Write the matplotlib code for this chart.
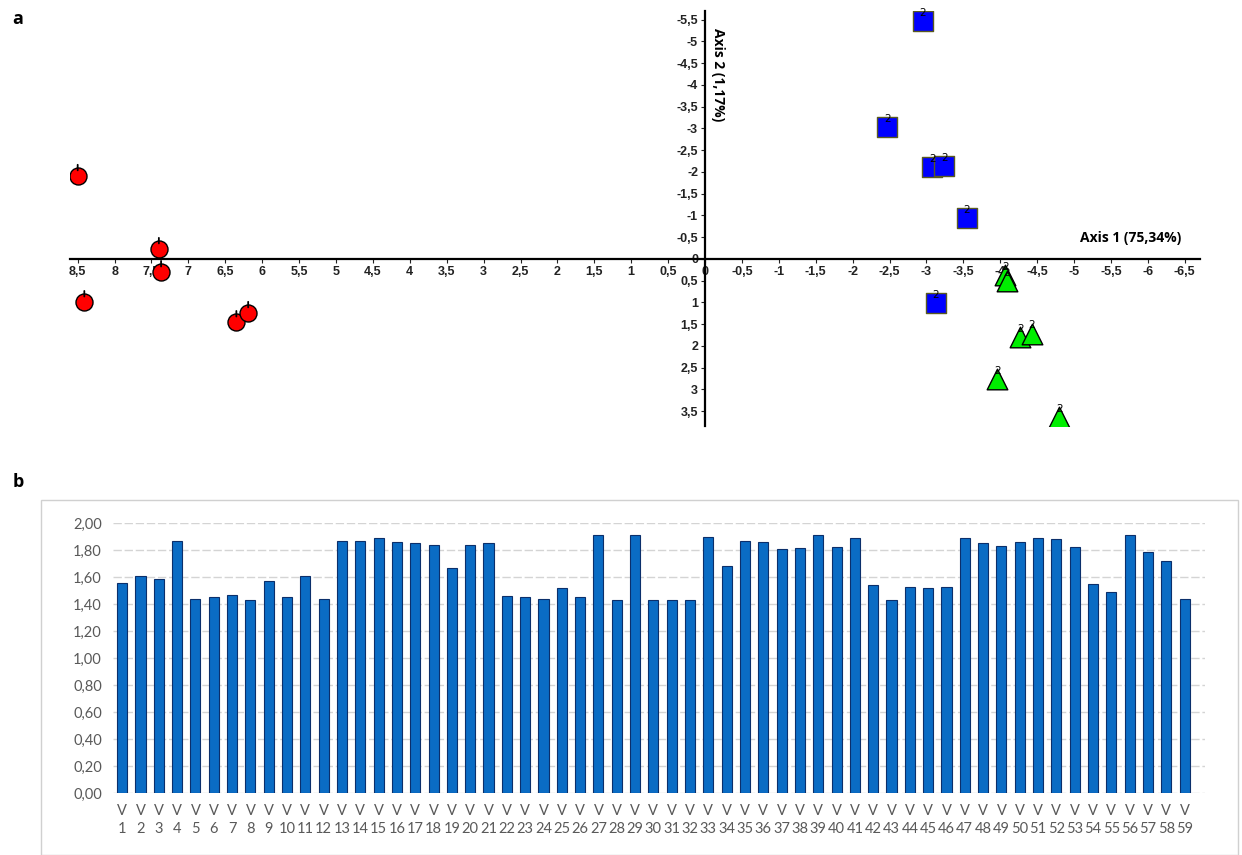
import matplotlib
matplotlib.use('Agg')
import matplotlib.pyplot as plt
import matplotlib.patches as mpatches
import numpy as np

# panel a: ordination scores (axis 1, axis 2)
red_x = [8.50, 8.41, 7.40, 7.37, 6.35, 6.19]
red_y = [-1.91, 0.99, -0.23, 0.30, 1.45, 1.24]
blue_x = [-2.95, -2.47, -3.08, -3.24, -3.55, -3.13]
blue_y = [-5.47, -3.03, -2.11, -2.14, -0.94, 1.01]
green_x = [-4.07, -4.09, -4.27, -4.43, -3.96, -4.80]
green_y = [0.37, 0.51, 1.79, 1.72, 2.76, 3.63]

# panel b: values per variable
var_names = ['V\n%d' % i for i in range(1, 60)]
values = [1.56, 1.61, 1.59, 1.87, 1.44, 1.45, 1.47, 1.43, 1.57, 1.45,
          1.61, 1.44, 1.87, 1.87, 1.89, 1.86, 1.85, 1.84, 1.67, 1.84,
          1.85, 1.46, 1.45, 1.44, 1.52, 1.45, 1.91, 1.43, 1.91, 1.43,
          1.43, 1.43, 1.90, 1.68, 1.87, 1.86, 1.81, 1.815, 1.91, 1.82,
          1.89, 1.54, 1.43, 1.53, 1.52, 1.53, 1.89, 1.85, 1.83, 1.86,
          1.89, 1.88, 1.82, 1.55, 1.49, 1.91, 1.79, 1.72, 1.44]


def comma(v, fmt='%g'):
    s = fmt % v
    if s == '-0':
        s = '0'
    return s.replace('.', ',')


fig = plt.figure(figsize=(12.42, 8.55), dpi=100)

# ---------------- panel a ----------------
ax = fig.add_axes([0.0566, 0.5012, 0.9092, 0.4859])
ax.set_xlim(8.6, -6.7)
ax.set_ylim(3.85, -5.7)
for s in ['top', 'right']:
    ax.spines[s].set_visible(False)
ax.spines['left'].set_position(('data', 0))
ax.spines['bottom'].set_position(('data', 0))
ax.spines['left'].set_linewidth(1.6)
ax.spines['bottom'].set_linewidth(1.6)

xt = np.arange(8.5, -6.51, -0.5)
ax.set_xticks(xt)
ax.set_xticklabels([comma(v) for v in xt])
yt = np.arange(-5.5, 3.51, 0.5)
ax.set_yticks(yt)
ax.set_yticklabels([comma(v) for v in yt])
ax.tick_params(axis='both', labelsize=9, length=3, width=0.8, pad=2,
               colors='#222222')
for lab in ax.get_xticklabels() + ax.get_yticklabels():
    lab.set_fontfamily('Liberation Sans')
    lab.set_fontweight('bold')

ax.scatter(red_x, red_y, s=150, marker='o', color='#ff0000',
           edgecolors='black', linewidths=1.0, zorder=3)
ax.scatter(blue_x, blue_y, s=190, marker='s', color='#0000ff',
           edgecolors='#5a5a20', linewidths=1.0, zorder=3)
ax.scatter(green_x, green_y, s=220, marker='^', color='#00ee00',
           edgecolors='black', linewidths=1.0, zorder=3)

for x, y in zip(red_x, red_y):
    ax.annotate('', xy=(x, y), xytext=(0, 8), textcoords='offset points',
                arrowprops=dict(arrowstyle='-', color='black', lw=1.3,
                                shrinkA=0, shrinkB=4),
                zorder=4)
for x, y in zip(blue_x + green_x, blue_y + green_y):
    ax.annotate('2', xy=(x, y), xytext=(0, 6), textcoords='offset points',
                ha='center', va='center', fontsize=7.5, color='black',
                zorder=4)

ax.text(-5.76, -0.48, 'Axis 1 (75,34%)', ha='center', va='center',
        fontsize=10, fontweight='bold', family='Open Sans')
ax.text(-0.18, -4.23, 'Axis 2 (1,17%)', ha='center', va='center',
        rotation=-90, fontsize=10, fontweight='bold', family='Open Sans')

fig.text(0.010, 0.978, 'a', fontsize=13, fontweight='bold',
         family='Open Sans', va='center')
fig.text(0.010, 0.436, 'b', fontsize=13, fontweight='bold',
         family='Open Sans', va='center')

# ---------------- panel b ----------------
frame = mpatches.Rectangle((0.033, 0.0), 0.964, 0.415,
                           transform=fig.transFigure, fill=False,
                           edgecolor='#d0d0d0', linewidth=1.0)
fig.patches.append(frame)

bx = fig.add_axes([0.091, 0.0722, 0.879, 0.3159])
pos = np.arange(1, len(values) + 1)
bx.bar(pos, values, width=0.55, color='#0a6cc4', edgecolor='#0b2f6b',
       linewidth=0.8, zorder=3)
bx.set_xlim(0.5, 60.1)
bx.set_ylim(0, 2.0)
bx.set_yticks(np.arange(0, 2.01, 0.2))
bx.set_yticklabels([comma(v, '%.2f') for v in np.arange(0, 2.01, 0.2)])
bx.set_xticks(pos)
bx.set_xticklabels(var_names)
bx.grid(axis='y', color='#d4d4d4', linewidth=1.0, linestyle=(0, (6, 2)),
        zorder=0)
for s in bx.spines.values():
    s.set_visible(False)
bx.tick_params(axis='both', length=0, labelsize=10.5, colors='#595959')
bx.tick_params(axis='y', pad=8)
bx.tick_params(axis='x', pad=8)
for lab in bx.get_xticklabels() + bx.get_yticklabels():
    lab.set_fontfamily('Lato')
    lab.set_linespacing(1.3)

fig.savefig('out.png', dpi=100)
